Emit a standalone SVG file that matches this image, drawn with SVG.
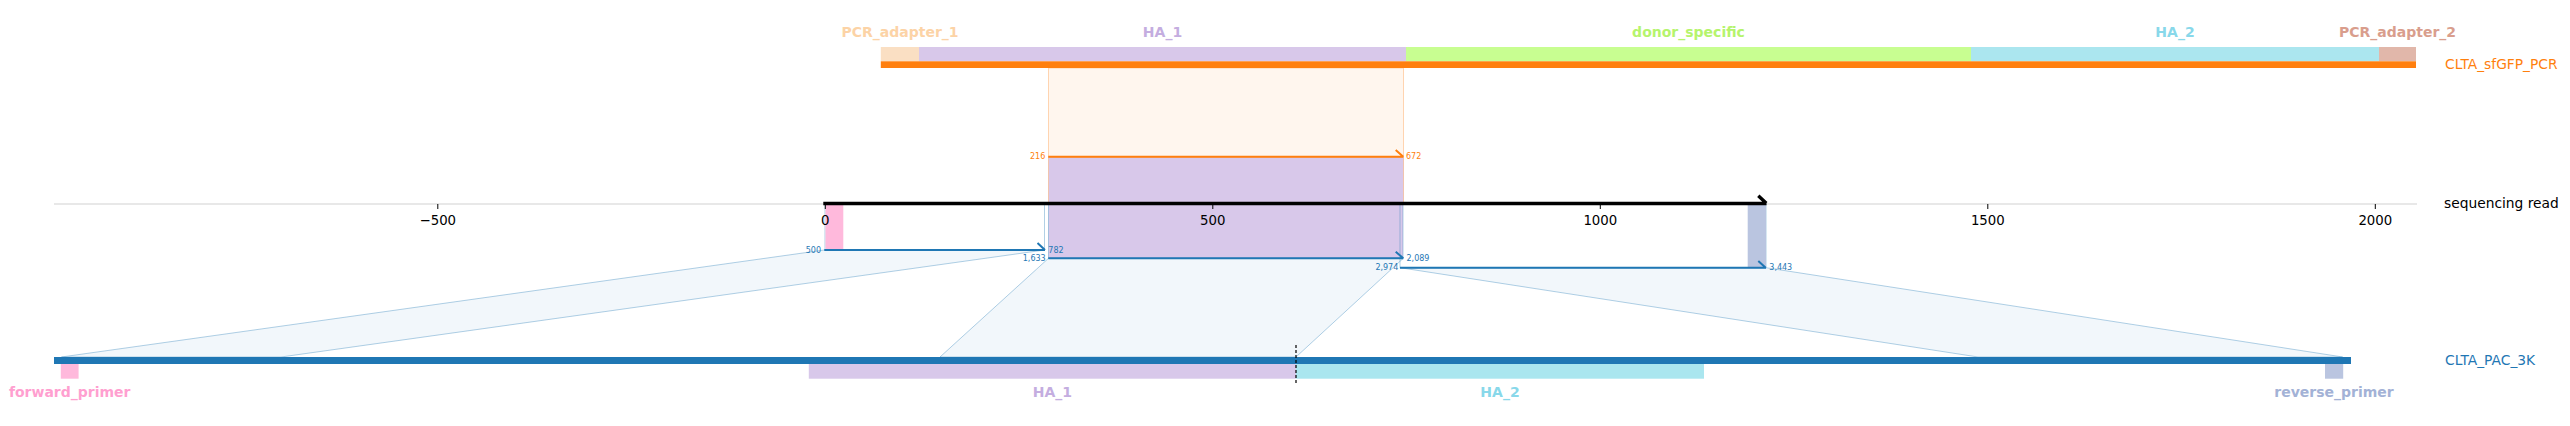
<svg xmlns="http://www.w3.org/2000/svg" width="2570" height="426" viewBox="0 0 2570 426">
<style>
text{font-family:"DejaVu Sans","Liberation Sans",sans-serif}
.feat{font-weight:bold;font-size:14px;text-anchor:middle}
.name{font-size:13.8px}
.tick{font-size:13.3px;text-anchor:middle;fill:#000}
.num{font-size:8px;dominant-baseline:central}
.numo{fill:#ff7f0e}
.numb{fill:#1f77b4}
.end{text-anchor:end}
.poly{fill:#1f77b4;fill-opacity:0.06;stroke:#1f77b4;stroke-opacity:0.35;stroke-width:1}
.hlb{stroke:#1f77b4;stroke-opacity:0.35;stroke-width:1}
.hlo{stroke:#ff7f0e;stroke-opacity:0.3;stroke-width:1}
.ablue{fill:none;stroke:#1f77b4;stroke-width:2}
.aorange{fill:none;stroke:#ff7f0e;stroke-width:2}
</style>

<!-- axis baseline -->
<g id="axis-line">
<line x1="54" y1="204" x2="2417" y2="204" stroke="#e0e0e0" stroke-width="1.3"/>
</g>

<!-- connectors -->
<g id="connectors">
<rect x="1048.5" y="68" width="355" height="89" fill="#ff7f0e" fill-opacity="0.07" class="hlo"/>
<polygon class="poly" points="824.3,250 1044.5,250 281,357 61.4,357"/>
<polygon class="poly" points="1048.5,258.3 1403.3,258.3 1296,357 940,357"/>
<polygon class="poly" points="1400,267.7 1766,267.7 2342.7,357 1978,357"/>
</g>

<!-- top sequence -->
<g id="CLTA_sfGFP_PCR">
<rect x="880.8" y="47" width="38.2" height="14.3" fill="#fadfc3"/>
<rect x="919" y="47" width="487" height="14.3" fill="#d8c8ea"/>
<rect x="1406" y="47" width="565" height="14.3" fill="#c8fe91"/>
<rect x="1971" y="47" width="408" height="14.3" fill="#abe6ef"/>
<rect x="2379" y="47" width="37" height="14.3" fill="#e1b7aa"/>
<rect x="880.8" y="61.3" width="1535.2" height="6.7" fill="#ff7f0e"/>
<text class="feat" x="900" y="37" fill="#fcd3a6">PCR_adapter_1</text>
<text class="feat" x="1162.5" y="37" fill="#c4ade0">HA_1</text>
<text class="feat" x="1688.5" y="37" fill="#b5f46c">donor_specific</text>
<text class="feat" x="2175" y="37" fill="#88d8ea">HA_2</text>
<text class="feat" x="2397.5" y="37" fill="#d99e8d">PCR_adapter_2</text>
<text class="name" x="2445" y="68.5" fill="#ff7f0e">CLTA_sfGFP_PCR</text>
</g>

<!-- read -->
<g id="sequencing_read">
<rect x="1048.5" y="157" width="355" height="47" fill="#d8c8ea" class="hlo"/>
<rect x="1048.5" y="204" width="354.5" height="54.3" fill="#d8c8ea" class="hlb"/>
<rect x="825" y="204" width="219.5" height="46" fill="none" class="hlb"/>
<rect x="825.5" y="204" width="17.8" height="46" fill="#ffb9dc"/>
<rect x="1400" y="204" width="366" height="63.7" fill="none" class="hlb"/>
<rect x="1747.7" y="204" width="18.3" height="63.7" fill="#bac5e0"/>
<path d="M823.3 203.5 L1766.5 203.5 M1758.3 195.7 L1766.3 203.2" fill="none" stroke="#000" stroke-width="3.4"/>
<text class="name" x="2444" y="207.5" fill="#000">sequencing read</text>
</g>

<!-- axis ticks and labels -->
<g id="axis-ticks">
<g stroke="#000" stroke-width="1">
<line x1="437.8" y1="204" x2="437.8" y2="209"/>
<line x1="825.3" y1="204" x2="825.3" y2="209"/>
<line x1="1212.8" y1="204" x2="1212.8" y2="209"/>
<line x1="1600.3" y1="204" x2="1600.3" y2="209"/>
<line x1="1987.8" y1="204" x2="1987.8" y2="209"/>
<line x1="2375.3" y1="204" x2="2375.3" y2="209"/>
</g>
<text class="tick" x="437.8" y="225">−500</text>
<text class="tick" x="825.3" y="225">0</text>
<text class="tick" x="1212.8" y="225">500</text>
<text class="tick" x="1600.3" y="225">1000</text>
<text class="tick" x="1987.8" y="225">1500</text>
<text class="tick" x="2375.3" y="225">2000</text>
</g>

<!-- alignment arrows -->
<g id="alignments">
<path class="aorange" d="M1048.3 156.7 L1403.3 156.7 M1395.7 150 L1403.3 156.7"/>
<text class="num numo end" x="1045.3" y="156.7">216</text>
<text class="num numo" x="1406" y="156.7">672</text>
<path class="ablue" d="M824.3 250 L1045 250 M1037.5 243 L1045 250"/>
<text class="num numb end" x="821" y="250">500</text>
<text class="num numb" x="1048.3" y="250">782</text>
<path class="ablue" d="M1048.3 258.3 L1403.3 258.3 M1395.7 251.7 L1403.3 258.3"/>
<text class="num numb end" x="1045.7" y="258.8">1,633</text>
<text class="num numb" x="1406.5" y="258.3">2,089</text>
<path class="ablue" d="M1400 267.7 L1766 267.7 M1758.3 261 L1765.7 267.7"/>
<text class="num numb end" x="1398.3" y="267.5">2,974</text>
<text class="num numb" x="1769.3" y="267.7">3,443</text>
</g>

<!-- bottom sequence -->
<g id="CLTA_PAC_3K">
<rect x="54" y="357" width="2297" height="7" fill="#1f77b4"/>
<rect x="60.8" y="364" width="17.8" height="14.7" fill="#ffb9dc"/>
<rect x="808.8" y="364" width="487.2" height="14.7" fill="#d8c8ea"/>
<rect x="1296" y="364" width="408" height="14.7" fill="#aae6ef"/>
<rect x="2325" y="364" width="18.2" height="14.7" fill="#bac5e0"/>
<line x1="1296" y1="345" x2="1296" y2="384" stroke="#000" stroke-width="1.2" stroke-dasharray="3,2"/>
<text class="feat" x="69.7" y="396.5" fill="#ff9fd0">forward_primer</text>
<text class="feat" x="1052.4" y="396.5" fill="#c4ade0">HA_1</text>
<text class="feat" x="1500" y="396.5" fill="#88d8ea">HA_2</text>
<text class="feat" x="2334" y="396.5" fill="#a3b2d6">reverse_primer</text>
<text class="name" x="2445" y="365" fill="#1f77b4">CLTA_PAC_3K</text>
</g>
</svg>
